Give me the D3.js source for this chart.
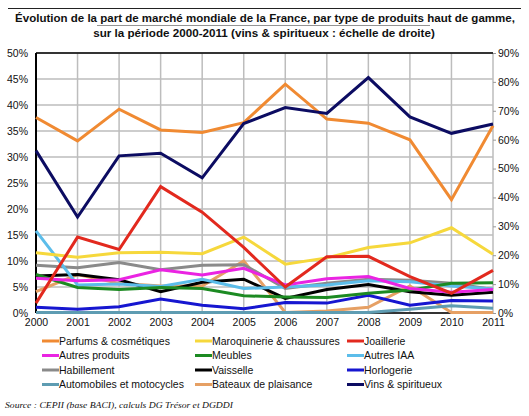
<!DOCTYPE html>
<html>
<head>
<meta charset="utf-8">
<script src="https://cdn.jsdelivr.net/npm/d3@7"></script>
<style>
html,body{margin:0;padding:0;background:#fff;}
svg{display:block;}
</style>
</head>
<body>
<svg id="chart" width="529" height="416"></svg>
<script>
const years = [2000,2001,2002,2003,2004,2005,2006,2007,2008,2009,2010,2011];
const leftTicks = [0,0.05,0.10,0.15,0.20,0.25,0.30,0.35,0.40,0.45,0.50];
const rightTicks = [0,0.1,0.2,0.3,0.4,0.5,0.6,0.7,0.8,0.9];

const parfums      = [37.6,33.1,39.2,35.2,34.7,36.6,44.0,37.3,36.5,33.3,21.8,36.0];
const maroquinerie = [11.6,10.7,11.6,11.7,11.4,14.6,9.4,10.6,12.6,13.5,16.4,11.3];
const joaillerie   = [1.9,14.6,12.2,24.3,19.4,12.6,5.0,10.8,10.9,7.0,3.8,8.2];
const autresProd   = [6.7,6.2,6.4,8.3,7.3,8.6,5.4,6.6,7.0,4.7,4.0,4.5];
const meubles      = [7.4,4.9,4.5,4.9,4.7,3.3,3.1,3.0,3.8,4.4,5.7,5.8];
const autresIAA    = [15.8,5.4,5.6,5.1,6.5,4.7,5.0,5.4,6.2,6.0,5.2,4.6];
const habillement  = [9.2,8.7,9.7,8.3,9.2,9.3,4.7,5.7,6.5,6.3,5.7,4.5];
const vaisselle    = [7.1,7.4,6.4,4.1,5.9,6.5,2.8,4.5,5.5,4.1,3.4,4.0];
const horlogerie   = [1.1,0.7,1.2,2.7,1.5,0.8,2.0,1.9,3.4,1.5,2.4,2.3];
const automobiles  = [0.1,0.1,0.1,0.1,0.1,0.1,0.1,0.1,0.1,0.7,1.4,0.9];
const bateaux      = [4.1,7.4,5.7,5.2,5.2,10.0,0.1,0.4,1.1,5.2,0.1,0.1];
const vins         = [56.2,33.2,54.4,55.3,46.8,65.6,71.1,69.1,81.5,67.9,62.2,65.4];

const seriesNames = ["Parfums & cosmétiques","Maroquinerie & chaussures","Joaillerie",
  "Autres produits","Meubles","Autres IAA","Habillement","Vaisselle","Horlogerie",
  "Automobiles et motocycles","Bateaux de plaisance","Vins & spiritueux"];
const seriesValues = [parfums,maroquinerie,joaillerie,autresProd,meubles,autresIAA,
  habillement,vaisselle,horlogerie,automobiles,bateaux,vins];
const seriesColors = ["#F08A32","#F6D83C","#E2291E","#EA24E2","#1C8A22","#5CBDEA",
  "#8A8A8A","#000000","#1616D0","#5E9CB2","#E6A064","#0C0C62"];
const seriesAxis = ["L","L","L","L","L","L","L","L","L","L","L","R"];

const svg = d3.select("#chart");
const L = 36, R = 493, T = 53, B = 313;

const x = d3.scaleLinear().domain([2000,2011]).range([L,R]);
const yL = d3.scaleLinear().domain([0,0.5]).range([B,T]);
const yR = d3.scaleLinear().domain([0,0.9]).range([B,T]);

// top rule and title
svg.append("line").attr("x1",8).attr("x2",521).attr("y1",8.5).attr("y2",8.5)
  .attr("stroke","#222").attr("stroke-width",1);
svg.append("line").attr("x1",97).attr("x2",430).attr("y1",25.5).attr("y2",25.5)
  .attr("stroke","#666").attr("stroke-width",0.7);
const tf = "'Liberation Sans Narrow','Arial Narrow','Liberation Sans',sans-serif";
function fitTitle(txt, cx, y, target) {
  const t = svg.append("text").attr("x",cx).attr("y",y).attr("text-anchor","middle")
    .attr("font-family",tf).attr("font-weight","bold").attr("font-size",13)
    .attr("fill","#111").text(txt);
  const w = t.node().getComputedTextLength();
  if (w > target) {
    t.attr("font-size", 13*target/w);
  } else {
    t.attr("textLength",target).attr("lengthAdjust","spacingAndGlyphs");
  }
  return t;
}
fitTitle("Évolution de la part de marché mondiale de la France, par type de produits haut de gamme,",265,22,500);
fitTitle("sur la période 2000-2011 (vins & spiritueux : échelle de droite)",264,37,342);

// grid
const g = svg.append("g");
g.selectAll("line.h").data(leftTicks).join("line")
  .attr("x1",L).attr("x2",R).attr("y1",d=>yL(d)).attr("y2",d=>yL(d))
  .attr("stroke","#bdbdbd").attr("stroke-width",1.5);
g.selectAll("line.v").data(years).join("line")
  .attr("x1",d=>x(d)).attr("x2",d=>x(d)).attr("y1",T).attr("y2",B)
  .attr("stroke","#bdbdbd").attr("stroke-width",1.5);

// axes
const fmtL = d => Math.round(d*100) + "%";
const axL = d3.axisLeft(yL).tickValues(leftTicks).tickFormat(fmtL).tickSize(0).tickPadding(8);
const gL = svg.append("g").attr("transform",`translate(${L},0)`).call(axL);
gL.select(".domain").remove();
const axR = d3.axisRight(yR).tickValues(rightTicks).tickFormat(fmtL).tickSize(3).tickPadding(2);
const gR = svg.append("g").attr("transform",`translate(${R},0)`).call(axR);
gR.select(".domain").remove();
gR.selectAll(".tick line").attr("stroke","#999");
const axB = d3.axisBottom(x).tickValues(years).tickFormat(d3.format("d")).tickSize(0).tickPadding(8);
const gB = svg.append("g").attr("transform",`translate(0,${B})`).call(axB);
gB.select(".domain").remove();
svg.selectAll(".tick text").attr("font-family","'Liberation Sans',Arial,sans-serif")
  .attr("font-size",10.5).attr("fill","#111");
gB.selectAll(".tick text").attr("dy","0.5em");

// frame lines
svg.append("line").attr("x1",L).attr("x2",R).attr("y1",T).attr("y2",T).attr("stroke","#000").attr("stroke-width",1.5);
svg.append("line").attr("x1",L).attr("x2",L).attr("y1",T).attr("y2",B).attr("stroke","#000").attr("stroke-width",2);
svg.append("line").attr("x1",L).attr("x2",R).attr("y1",B).attr("y2",B).attr("stroke","#000").attr("stroke-width",1.5);

// series
const drawOrder = [10,9,8,7,6,5,4,3,1,2,0,11];
const lines = svg.append("g");
drawOrder.forEach(i => {
  const ys = seriesAxis[i] === "R" ? yR : yL;
  const line = d3.line().x((d,j)=>x(years[j])).y(d=>ys(d/100));
  lines.append("path").datum(seriesValues[i]).attr("d",line)
    .attr("fill","none").attr("stroke",seriesColors[i]).attr("stroke-width",3)
    .attr("stroke-linejoin","miter").attr("stroke-linecap","butt");
});

// legend
const colX = [42,195,347];
const rowY = [341,355.5,370,384.5];
const leg = svg.append("g");
seriesNames.forEach((name,i) => {
  const cx = colX[i%3], cy = rowY[Math.floor(i/3)];
  leg.append("line").attr("x1",cx).attr("x2",cx+17).attr("y1",cy).attr("y2",cy)
    .attr("stroke",seriesColors[i]).attr("stroke-width",3);
  leg.append("text").attr("x",cx+17).attr("y",cy+3.6)
    .attr("font-family","'Liberation Sans',Arial,sans-serif").attr("font-size",10.5)
    .attr("fill","#111").text(name);
});

// source
svg.append("text").attr("x",5).attr("y",408)
  .attr("font-family","'Liberation Serif','Times New Roman',serif").attr("font-style","italic")
  .attr("font-size",9).attr("textLength",228).attr("lengthAdjust","spacingAndGlyphs")
  .attr("fill","#111").text("Source : CEPII (base BACI), calculs DG Trésor et DGDDI");
</script>
</body>
</html>
